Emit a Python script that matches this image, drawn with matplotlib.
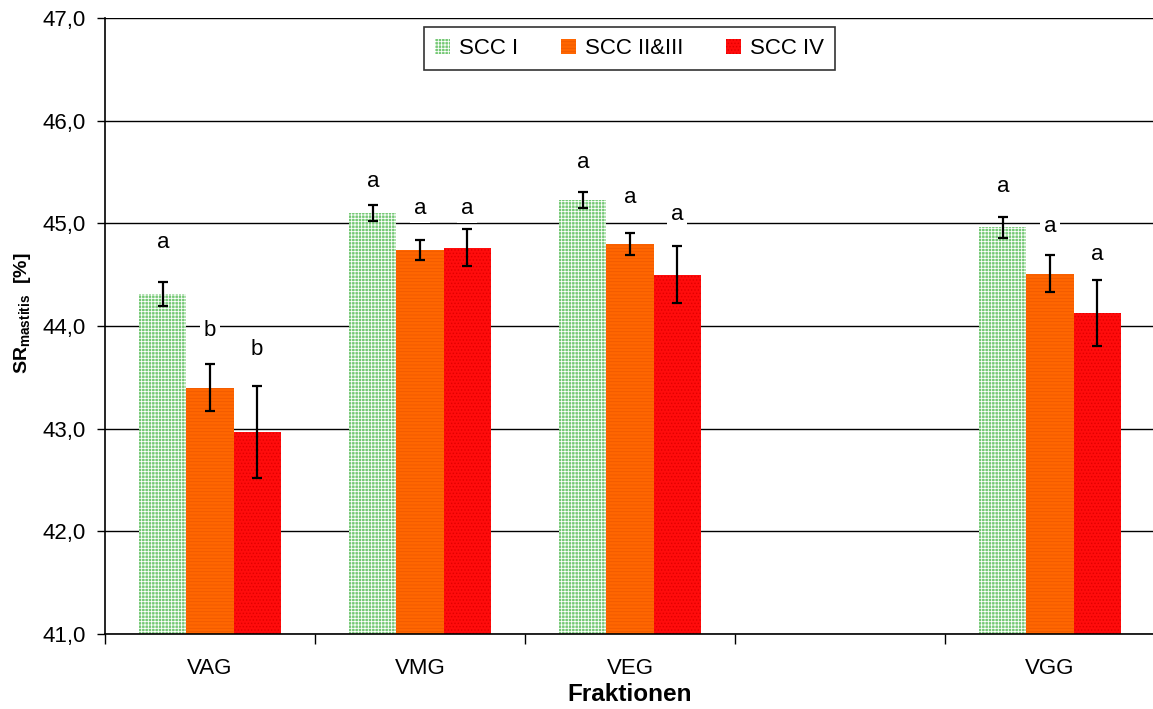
import numpy as np
import matplotlib
matplotlib.use('Agg')
import matplotlib.pyplot as plt
from matplotlib.ticker import FixedLocator, FuncFormatter

plt.rcParams['font.family'] = ['Liberation Sans', 'DejaVu Sans']
plt.rcParams['mathtext.fontset'] = 'custom'
plt.rcParams['mathtext.bf'] = 'Liberation Sans:bold'
plt.rcParams['mathtext.rm'] = 'Liberation Sans'
plt.rcParams['hatch.linewidth'] = 0.6

# data (4th slot is empty in the original)
categories = ['VAG', 'VMG', 'VEG', '', 'VGG']
series = ['SCC I', 'SCC II&III', 'SCC IV']
scc1 = [44.31, 45.10, 45.23, np.nan, 44.96]
scc23 = [43.40, 44.74, 44.80, np.nan, 44.51]
scc4 = [42.97, 44.76, 44.50, np.nan, 44.13]
err1 = [0.12, 0.075, 0.08, np.nan, 0.10]
err23 = [0.23, 0.10, 0.11, np.nan, 0.18]
err4 = [0.45, 0.18, 0.28, np.nan, 0.32]
# significance letters and the height they sit at
lett1 = ['a', 'a', 'a', '', 'a']
lett23 = ['b', 'a', 'a', '', 'a']
lett4 = ['b', 'a', 'a', '', 'a']
lett1_y = [44.81, 45.41, 45.59, np.nan, 45.36]
lett23_y = [43.96, 45.14, 45.25, np.nan, 44.97]
lett4_y = [43.77, 45.14, 45.09, np.nan, 44.70]

values = [scc1, scc23, scc4]
errors = [err1, err23, err4]
letters = [lett1, lett23, lett4]
letters_y = [lett1_y, lett23_y, lett4_y]
faces = ['#74c874', '#ff6600', '#ff0c0c']
hatch_cols = ['white', '#f05a00', '#e00000']
hatches = ['+++++', '-----', '.....']

fig = plt.figure(figsize=(11.53, 7.09), dpi=100)
ax = fig.add_axes([105 / 1153, 1 - 634 / 709, 1050 / 1153, 616 / 709])

x = np.arange(len(categories))
w = 0.224
for i in range(3):
    xi = x + (i - 1) * w
    ax.bar(xi, np.array(values[i]) - 41.0, w, bottom=41.0, color=faces[i],
           hatch=hatches[i], edgecolor=hatch_cols[i], linewidth=0,
           label=series[i], zorder=2)
    ax.errorbar(xi, values[i], yerr=errors[i], fmt='none', ecolor='black',
                elinewidth=1.6, capsize=3.5, capthick=1.6, zorder=3)
    for xx, ty, t in zip(xi, letters_y[i], letters[i]):
        if t:
            ax.text(xx, ty, t, ha='center', va='center', fontsize=16, zorder=4,
                    bbox=dict(boxstyle='square,pad=0.15', fc='white', ec='none'))

ax.set_xlim(-0.5, len(categories) - 0.5)
ax.set_ylim(41.0, 47.0)
ax.set_yticks(np.arange(41.0, 47.01, 1.0))
ax.yaxis.set_major_formatter(FuncFormatter(lambda v, p: f'{v:.1f}'.replace('.', ',')))
ax.set_xticks(x)
ax.set_xticklabels(categories)
ax.xaxis.set_minor_locator(FixedLocator(np.arange(-0.5, len(categories), 1.0)))
ax.tick_params(axis='x', which='major', length=0, labelsize=16, pad=17.5)
ax.tick_params(axis='x', which='minor', length=7, width=1, direction='out')
ax.tick_params(axis='y', length=6, width=1, labelsize=16, pad=8)

ax.grid(axis='y', color='black', linewidth=1, zorder=0)
ax.set_axisbelow(True)
for s in ['top', 'right']:
    ax.spines[s].set_visible(False)
ax.spines['left'].set_linewidth(1.2)
ax.spines['bottom'].set_linewidth(1.2)

ax.set_ylabel(r'$\mathbf{SR_{mastitis}}$  [%]', fontsize=14, fontweight='bold')
ax.yaxis.set_label_coords(-0.069, 0.521)
ax.set_xlabel('Fraktionen', fontsize=17.5, fontweight='bold', labelpad=3)

leg = ax.legend(loc='upper center', bbox_to_anchor=(0.4995, 0.985), ncol=3, fontsize=16,
                frameon=True, fancybox=False, edgecolor='black', handlelength=0.7,
                handleheight=0.7, handletextpad=0.4, columnspacing=1.9,
                borderpad=0.5, borderaxespad=0)
leg.get_frame().set_linewidth(1.2)

fig.savefig('out.png', dpi=100)
